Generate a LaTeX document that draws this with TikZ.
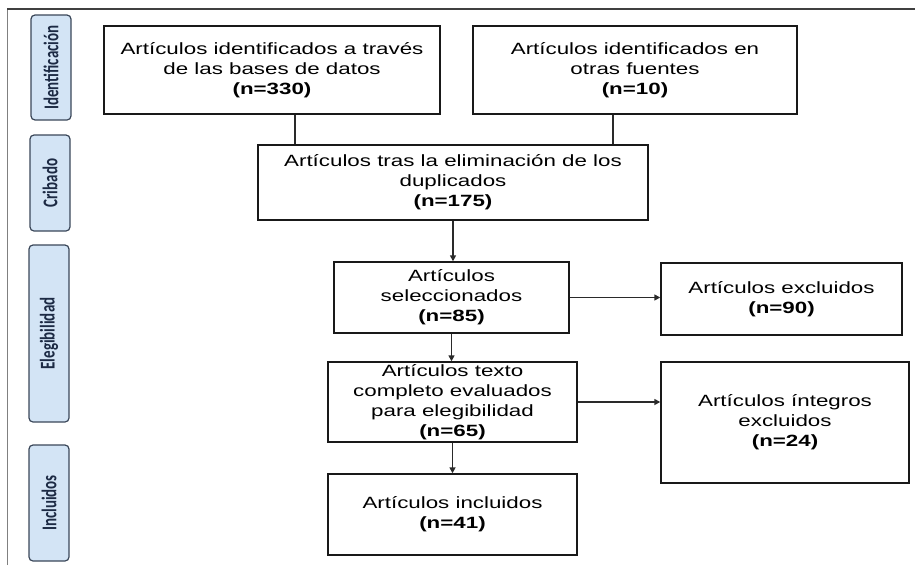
\documentclass[tikz,border=0pt]{standalone}
\usepackage{fontspec}
\usetikzlibrary{arrows.meta}
\newfontfamily\boxfont{Liberation Sans}[FakeStretch=1.37]
\newfontfamily\stagefont{Carlito}
\definecolor{stagefill}{HTML}{D3E4F5}
\definecolor{stageline}{HTML}{3A4759}
\definecolor{stagetext}{HTML}{1C2A44}
\definecolor{linkgray}{HTML}{2A2A2A}
\newcommand{\stagetxt}[1]{\scalebox{1}[1.4]{#1}}

\begin{document}
\begin{tikzpicture}[x=1pt,y=-1pt,
  box/.style={draw=black!90, line width=1.4pt, align=center, inner sep=0pt,
    font=\boxfont\fontsize{16.3}{20}\selectfont},
  stage/.style={draw=stageline, fill=stagefill, line width=1.2pt, rounded corners=4pt,
    rotate=90, minimum height=40pt, inner sep=0pt, text=stagetext,
    font=\stagefont\bfseries\fontsize{15}{18}\selectfont},
  link/.style={draw=linkgray, line width=1.7pt},
  arrow/.style={link, -{Triangle[length=6pt,width=6pt]}}]
\useasboundingbox (0,0) rectangle (915,565);

% frame
\draw[gray, line width=0.8pt] (7,565) -- (7,9);
\draw[darkgray, line width=1.6pt] (7,9) -- (915,9);

% stages
\node[stage, minimum width=105pt] (ident) at (51,67.5) {\stagetxt{Identificación}};
\node[stage, minimum width=96pt] (crib) at (50,183) {\stagetxt{Cribado}};
\node[stage, minimum width=177pt] (eleg) at (49,333.5) {\stagetxt{Elegibilidad}};
\node[stage, minimum width=116pt] (incl) at (49,503) {\stagetxt{Incluidos}};

% boxes
\node[box, minimum width=336pt, minimum height=88pt] (bases) at (272,70)
  {Artículos identificados a través\\ de las bases de datos\\ \textbf{(n=330)}};
\node[box, minimum width=324pt, minimum height=88pt] (otras) at (635,70)
  {Artículos identificados en\\ otras fuentes\\ \textbf{(n=10)}};
\node[box, minimum width=390pt, minimum height=75pt] (dupl) at (453,182.5)
  {Artículos tras la eliminación de los\\ duplicados\\ \textbf{(n=175)}};
\node[box, minimum width=235pt, minimum height=71pt] (selec) at (451.5,297.5)
  {Artículos\\ seleccionados\\ \textbf{(n=85)}};
\node[box, minimum width=241pt, minimum height=72pt] (excl) at (781.5,299)
  {Artículos excluidos\\ \textbf{(n=90)}};
\node[box, minimum width=249pt, minimum height=80pt] (texto) at (452.5,402)
  {Artículos texto\\ completo evaluados\\ para elegibilidad\\ \textbf{(n=65)}};
\node[box, minimum width=248pt, minimum height=121pt] (integ) at (785,422.5)
  {Artículos íntegros\\ excluidos\\ \textbf{(n=24)}};
\node[box, minimum width=249pt, minimum height=81pt] (inclu) at (452.5,514.5)
  {Artículos incluidos\\ \textbf{(n=41)}};

% connectors
\draw[link] ([xshift=23pt]bases.south) -- ([xshift=23pt]bases.south |- dupl.north);
\draw[link] ([xshift=-22pt]otras.south) -- ([xshift=-22pt]otras.south |- dupl.north);
\draw[arrow] (dupl.south) -- (dupl.south |- selec.north);
\draw[arrow] (selec.east) -- (selec.east -| excl.west);
\draw[arrow] (selec.south) -- (selec.south |- texto.north);
\draw[arrow] (texto.east) -- (texto.east -| integ.west);
\draw[arrow] (texto.south) -- (texto.south |- inclu.north);
\end{tikzpicture}
\end{document}
